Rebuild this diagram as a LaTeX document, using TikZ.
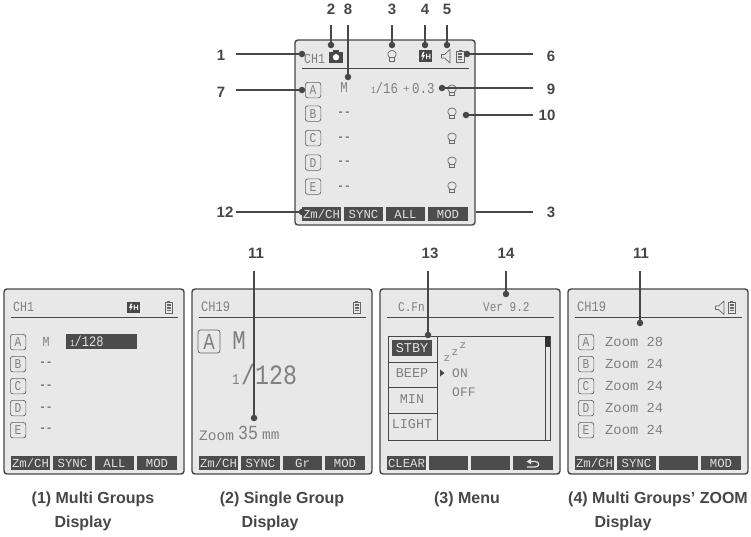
\documentclass[tikz,border=0pt]{standalone}
\usepackage{fontspec}
\setmainfont{Liberation Sans}
\newfontfamily\lcdfont[FakeStretch=0.83]{Liberation Mono}
\newfontfamily\lcdwide{Liberation Mono}
\usetikzlibrary{arrows.meta}
\colorlet{lcdbg}{black!9}
\colorlet{ink}{black!72}
\colorlet{lcdtext}{black!50}
\colorlet{keybg}{black!70}
\colorlet{keytext}{black!12}
\tikzset{
  x=1pt,y=-1pt,
  panelbox/.style={draw=ink,fill=lcdbg,line width=1.4pt,rounded corners=3pt},
  rule/.style={draw=ink,line width=0.8pt},
  softkey/.style={fill=keybg,draw=none},
  keylabel/.style={text=keytext,inner sep=0pt,font=\lcdwide\fontsize{12.3}{13}\selectfont},
  lcd/.style={text=lcdtext,inner sep=0pt,font=\lcdfont\fontsize{#1}{#1}\selectfont},
  lcd/.default=14,
  lcdw/.style={text=lcdtext,inner sep=0pt,font=\lcdwide\fontsize{#1}{#1}\selectfont},
  dashmark/.style={text=black!60,inner sep=0pt,font=\lcdwide\bfseries\fontsize{11}{11}\selectfont},
  groupbox/.style={draw=ink!85,line width=0.7pt,rounded corners=2.5pt,fill=lcdbg},
  numlabel/.style={text=ink,inner sep=0pt,font=\bfseries\fontsize{15}{15}\selectfont},
  caption/.style={text=ink,inner sep=0pt,font=\bfseries\fontsize{16}{16}\selectfont},
  lead/.style={draw=black!72,line width=1.2pt},
  leaddot/.style={circle,fill=black!72,inner sep=0pt,minimum size=6.5pt},
  icon/.style={draw=black!60,line width=0.7pt,fill=none},
}
% panel: prefix, x, y, four key labels
\newcommand{\lcdpanel}[7]{%
  \draw[panelbox] (#2,#3) rectangle ++(180,185);
  \draw[rule] (#2+7,#3+28) -- (#2+174,#3+28);
  \fill[softkey] (#2+7,#3+167) rectangle (#2+46,#3+181);
  \fill[softkey] (#2+49,#3+167) rectangle (#2+88,#3+181);
  \fill[softkey] (#2+91,#3+167) rectangle (#2+130,#3+181);
  \fill[softkey] (#2+133,#3+167) rectangle (#2+173,#3+181);
  \node[keylabel] (#1k1) at (#2+26.5,#3+174) {#4};
  \node[keylabel] (#1k2) at (#2+68.5,#3+174) {#5};
  \node[keylabel] (#1k3) at (#2+110.5,#3+174) {#6};
  \node[keylabel] (#1k4) at (#2+153,#3+174) {#7};
}
% lettered group box: name, x-left, y-top, letter
\newcommand{\grp}[4]{\node[groupbox,lcd=13.5,minimum width=15.5pt,minimum height=15.5pt,anchor=north west] (#1) at (#2,#3) {#4};}
% battery: x-left, y-top
\newcommand{\batt}[2]{%
  \draw[icon] (#1,#2+2) rectangle (#1+7.5,#2+12.5);
  \fill[black!60] (#1+2.2,#2) rectangle (#1+5.3,#2+2);
  \fill[black!60] (#1+1.8,#2+3.6) rectangle (#1+5.7,#2+5.2);
  \fill[black!60] (#1+1.8,#2+6.4) rectangle (#1+5.7,#2+8);
  \fill[black!60] (#1+1.8,#2+9.2) rectangle (#1+5.7,#2+10.8);
}
% speaker: x-left, y-top
\newcommand{\spk}[2]{%
  \draw[icon,line join=round] (#1,#2+5) -- (#1+3,#2+5) -- (#1+8.5,#2) -- (#1+8.5,#2+13.5) -- (#1+3,#2+8.5) -- (#1,#2+8.5) -- cycle;
}
% bulb: x-centre, y-top
\newcommand{\bulb}[2]{%
  \draw[icon] (#1-2.5,#2+7) .. controls (#1-6,#2+4) and (#1-3.5,#2) .. (#1,#2) .. controls (#1+3.5,#2) and (#1+6,#2+4) .. (#1+2.5,#2+7);
  \draw[icon] (#1-2.8,#2+7) rectangle (#1+2.8,#2+10.5);
}
% flash-H box: name, x-left, y-top, width, height
\newcommand{\flashbox}[5]{%
  \fill[black!72] (#2,#3) rectangle ++(#4,#5);
  \fill[white] (#2+#4*0.3,#3+#5*0.15) -- (#2+#4*0.17,#3+#5*0.55) -- (#2+#4*0.3,#3+#5*0.55) -- (#2+#4*0.22,#3+#5*0.88) -- (#2+#4*0.46,#3+#5*0.42) -- (#2+#4*0.33,#3+#5*0.42) -- (#2+#4*0.42,#3+#5*0.15) -- cycle;
  \node[text=white,inner sep=0pt,font=\bfseries\fontsize{7.5}{8}\selectfont] (#1) at (#2+#4*0.72,#3+#5*0.56) {H};
}
\begin{document}
\begin{tikzpicture}
\useasboundingbox[fill=white] (0,0) rectangle (751,536);

%% ===== top panel =====
\lcdpanel{t}{295}{40}{Zm/CH}{SYNC}{ALL}{MOD}
\node[lcd=14,anchor=west] (tch) at (304,58.5) {CH1};
% camera
\fill[black!72] (329,52) rectangle (343,62.5);
\fill[black!72] (333,50) rectangle (339,52);
\fill[white] (336,57.2) circle (3.2pt);
\bulb{392}{50.5}
\flashbox{tfl}{419}{50}{13}{12}
\spk{441.5}{49.5}
\batt{456.5}{49.5}
\grp{tA}{305}{82}{A}
\grp{tB}{305}{105.5}{B}
\grp{tC}{305}{130}{C}
\grp{tD}{305}{154.5}{D}
\grp{tE}{305}{178.5}{E}
\node[lcd=15] (tM) at (344,88) {M};
\node[dashmark] (tdb) at (344,114) {--};
\node[dashmark] (tdc) at (344,138.5) {--};
\node[dashmark] (tdd) at (344,163) {--};
\node[dashmark] (tde) at (344,187.5) {--};
\node[lcd=9.5,anchor=base west] (tfa) at (371,93) {1};
\node[lcd=15,anchor=base west] (tfb) at (375.5,93) {/16};
\node[lcdw=11,anchor=base west] (tfc) at (403,92) {+};
\node[lcd=15,anchor=base west] (tfd) at (412,93) {0.3};
\bulb{452}{85}
\bulb{452}{108}
\bulb{452}{133}
\bulb{452}{157}
\bulb{452}{182}

%% ===== panel 1 =====
\lcdpanel{a}{4}{289}{Zm/CH}{SYNC}{ALL}{MOD}
\node[lcd=14,anchor=west] (ach) at (13,307) {CH1};
\flashbox{afl}{127}{302}{12.5}{10.5}
\batt{165}{300.5}
\grp{aA}{10}{334}{A}
\grp{aB}{10}{356}{B}
\grp{aC}{10}{378}{C}
\grp{aD}{10}{400}{D}
\grp{aE}{10}{422}{E}
\node[lcd=14] (aM) at (46,342) {M};
\node[dashmark] (adb) at (46,364) {--};
\node[dashmark] (adc) at (46,386.5) {--};
\node[dashmark] (add) at (46,408.5) {--};
\node[dashmark] (ade) at (46,430) {--};
\fill[keybg] (66,334) rectangle (137,349);
\node[lcd=9.5,text=keytext,anchor=base west] (afa) at (70,346.5) {1};
\node[lcd=14.5,text=keytext,anchor=base west] (afb) at (74.5,346.5) {/128};

%% ===== panel 2 =====
\lcdpanel{b}{192}{289}{Zm/CH}{SYNC}{Gr}{MOD}
\node[lcd=14.5,anchor=west] (bch) at (201,307) {CH19};
\batt{353}{300.5}
\node[groupbox,lcd=23,minimum width=22pt,minimum height=23pt] (bA) at (209,341.5) {A};
\node[lcd=27] (bM) at (239,341) {M};
\node[lcd=15,anchor=base west] (bfa) at (232,384) {1};
\node[lcd=28,anchor=base west] (bfb) at (241,384) {/128};
\node[lcdw=14.5,anchor=west] (bz) at (199,436) {Zoom};
\node[lcd=20,anchor=west] (bn) at (238,433) {35};
\node[lcdw=14.5,anchor=west] (bm) at (262,436) {mm};

%% ===== panel 3 =====
\lcdpanel{c}{380}{289}{CLEAR}{}{}{}
\node[lcd=13.3,anchor=west] (cch) at (398,307) {C.Fn};
\node[lcd=13.3,anchor=west] (cver) at (483,307) {Ver 9.2};
\draw[rule] (388,336) rectangle (550,440);
\draw[rule] (437,336) -- (437,440);
\draw[rule] (545,336) -- (545,440);
\draw[rule] (388,362) -- (437,362);
\draw[rule] (388,387) -- (437,387);
\draw[rule] (388,413) -- (437,413);
\fill[black!80] (545,336) rectangle (550,347);
\fill[keybg] (392,340) rectangle (432,356);
\node[lcdw=13.5,text=keytext] (cm1) at (412,348) {STBY};
\node[lcdw=13.5] (cm2) at (412,373) {BEEP};
\node[lcdw=13.5] (cm3) at (412,399) {MIN};
\node[lcdw=13.5] (cm4) at (412,424) {LIGHT};
\node[lcdw=11] (cz1) at (447,359) {z};
\node[lcdw=11] (cz2) at (455,353) {z};
\node[lcdw=11] (cz3) at (463,346) {z};
\fill[black!72] (440,369.5) -- (444.5,373) -- (440,376.5) -- cycle;
\node[lcdw=13,anchor=west] (con) at (452,373) {ON};
\node[lcdw=13,anchor=west] (cof) at (452,392) {OFF};
% return arrow on the last soft key
\draw[keytext,line width=1.2pt] (529,461.5) -- (535,461.5) .. controls (540,461.5) and (540,467) .. (535,467) -- (527,467);
\fill[keytext] (526.5,461.5) -- (531,458.7) -- (531,464.3) -- cycle;

%% ===== panel 4 =====
\lcdpanel{e}{568}{289}{Zm/CH}{SYNC}{}{MOD}
\node[lcd=14.5,anchor=west] (ech) at (577,307) {CH19};
\spk{715.5}{301}
\batt{728}{300.5}
\grp{eA}{578}{334}{A}
\grp{eB}{578}{356}{B}
\grp{eC}{578}{378}{C}
\grp{eD}{578}{400}{D}
\grp{eE}{578}{422}{E}
\node[lcdw=13.8,anchor=west] (ezA) at (605,342) {Zoom 28};
\node[lcdw=13.8,anchor=west] (ezB) at (605,364) {Zoom 24};
\node[lcdw=13.8,anchor=west] (ezC) at (605,386) {Zoom 24};
\node[lcdw=13.8,anchor=west] (ezD) at (605,408) {Zoom 24};
\node[lcdw=13.8,anchor=west] (ezE) at (605,430) {Zoom 24};

%% ===== captions =====
\node[caption] (cap1a) at (93,499) {(1) Multi Groups};
\node[caption] (cap1b) at (83,523) {Display};
\node[caption] (cap2a) at (282,499) {(2) Single Group};
\node[caption] (cap2b) at (270,523) {Display};
\node[caption] (cap3a) at (467,499) {(3) Menu};
\node[caption] (cap4a) at (658,499) {(4) Multi Groups' ZOOM};
\node[caption] (cap4b) at (623,523) {Display};

%% ===== numbered labels =====
\node[numlabel] (n1) at (221,55) {1};
\node[numlabel] (n2) at (331,9) {2};
\node[numlabel] (n8) at (348,9) {8};
\node[numlabel] (n3) at (392,9) {3};
\node[numlabel] (n4) at (425,9) {4};
\node[numlabel] (n5) at (447,9) {5};
\node[numlabel] (n6) at (551,56) {6};
\node[numlabel] (n7) at (221,92) {7};
\node[numlabel] (n9) at (551,89) {9};
\node[numlabel] (n10) at (547,115.5) {10};
\node[numlabel] (n12) at (225,212) {12};
\node[numlabel] (n3b) at (551,212) {3};
\node[numlabel] (n11a) at (256,253) {11};
\node[numlabel] (n13) at (430,253) {13};
\node[numlabel] (n14) at (506,253) {14};
\node[numlabel] (n11b) at (641,253) {11};

%% ===== leader free ends =====
\coordinate (s1) at (236,54);
\coordinate (s2) at (331,25);
\coordinate (s8) at (348,25);
\coordinate (s3) at (392,25);
\coordinate (s4) at (425,25);
\coordinate (s5) at (447,25);
\coordinate (s6) at (533,54);
\coordinate (s7) at (236,90);
\coordinate (s9) at (533,88);
\coordinate (s10) at (533,115);
\coordinate (s12) at (236,212);
\coordinate (s3b) at (533,212);
\coordinate (e3b) at (476,212);
\coordinate (s11a) at (254,271);
\coordinate (s13) at (428,271);
\coordinate (s14) at (506,271);
\coordinate (s11b) at (640,271);

%% ===== leader dots =====
\node[leaddot] (d1) at (302,54) {};
\node[leaddot] (d2) at (331,45) {};
\node[leaddot] (d8) at (348,77) {};
\node[leaddot] (d3) at (392,45) {};
\node[leaddot] (d4) at (425,45) {};
\node[leaddot] (d5) at (447,45) {};
\node[leaddot] (d6) at (467,54) {};
\node[leaddot] (d7) at (302,90) {};
\node[leaddot] (d9) at (442,88) {};
\node[leaddot] (d10) at (466,115) {};
\node[leaddot] (d12) at (302,212) {};
\node[leaddot] (d11a) at (254,418) {};
\node[leaddot] (d13) at (428,335) {};
\node[leaddot] (d14) at (506,294) {};
\node[leaddot] (d11b) at (640,323) {};

%% ===== leaders =====
\draw[lead] (s1) -- (d1);
\draw[lead] (s2) -- (d2);
\draw[lead] (s8) -- (d8);
\draw[lead] (s3) -- (d3);
\draw[lead] (s4) -- (d4);
\draw[lead] (s5) -- (d5);
\draw[lead] (s6) -- (d6);
\draw[lead] (s7) -- (d7);
\draw[lead] (s9) -- (d9);
\draw[lead] (s10) -- (d10);
\draw[lead] (s12) -- (d12);
\draw[lead] (s3b) -- (e3b);
\draw[lead] (s11a) -- (d11a);
\draw[lead] (s13) -- (d13);
\draw[lead] (s14) -- (d14);
\draw[lead] (s11b) -- (d11b);
\end{tikzpicture}
\end{document}
